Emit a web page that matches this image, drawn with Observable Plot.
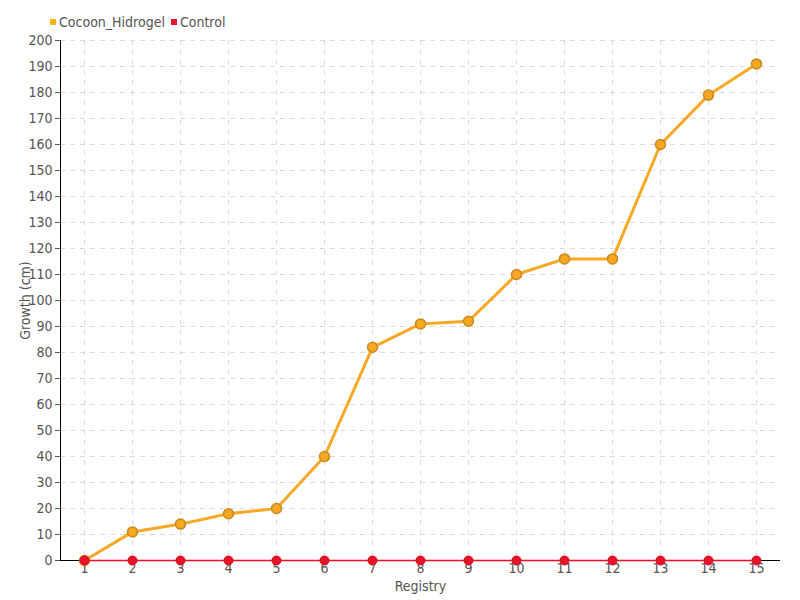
<!DOCTYPE html>
<html><head><meta charset="utf-8">
<script src="https://cdn.jsdelivr.net/npm/d3@7"></script>
<script src="https://cdn.jsdelivr.net/npm/@observablehq/plot@0.6"></script>
<style>
body{margin:0;background:#fff;font-family:"DejaVu Sans Condensed","Liberation Sans Narrow","Roboto",sans-serif;}
#legend{height:30px;display:flex;align-items:flex-end;padding-left:50px;font-size:14px;color:#555;box-sizing:border-box;}
#legend span.item{display:inline-flex;align-items:center;margin-right:6px;}
#legend span.sw{display:inline-block;width:6px;height:6px;margin-right:3px;}
</style></head>
<body>
<div id="legend"></div>
<div id="chart"></div>
<script>
const registry = [1,2,3,4,5,6,7,8,9,10,11,12,13,14,15];
const cocoon = [0,11,14,18,20,40,82,91,92,110,116,116,160,179,191];
const control = [0,0,0,0,0,0,0,0,0,0,0,0,0,0,0];
const seriesNames = ["Cocoon_Hidrogel","Control"];
const seriesColors = ["#f9b418","#e8132a"];

const legend = document.getElementById("legend");
seriesNames.forEach((n,i)=>{
  const s=document.createElement("span");s.className="item";
  s.innerHTML=`<span class="sw" style="background:${seriesColors[i]}"></span>${n}`;
  legend.appendChild(s);
});

const dCoc = registry.map((r,i)=>({x:r,y:cocoon[i]}));
const dCon = registry.map((r,i)=>({x:r,y:control[i]}));
const yTicks = d3.range(0,201,10);

const chart = Plot.plot({
  width:800, height:570,
  marginLeft:60, marginRight:20, marginTop:10, marginBottom:40,
  style:{fontFamily:'"DejaVu Sans Condensed","Liberation Sans Narrow","Roboto",sans-serif', fontSize:"14px", color:"#555"},
  x:{type:"point", domain:registry, padding:0.5},
  y:{domain:[0,200]},
  marks:[
    Plot.gridX(registry,{stroke:"#ccc", strokeOpacity:0.7, strokeDasharray:"5,5"}),
    Plot.gridY(yTicks.slice(1),{stroke:"#ccc", strokeOpacity:0.7, strokeDasharray:"5,5"}),
    Plot.ruleY([0],{stroke:"#000"}),
    Plot.frame({anchor:"left", stroke:"#000", strokeOpacity:1}),
    Plot.axisY({ticks:yTicks, tickSize:5, tickPadding:3, label:"Growth (cm)", labelAnchor:"center", labelArrow:"none", labelOffset:40, fill:"#555"}),
    Plot.axisX({tickSize:0, tickPadding:3, label:"Registry", labelAnchor:"center", labelArrow:"none", labelOffset:30, fill:"#555"}),
    Plot.line(dCoc,{x:"x",y:"y",stroke:"#f9a825",strokeWidth:3}),
    Plot.dot(dCoc,{x:"x",y:"y",r:5,fill:"#f5a623",stroke:"#c98a1e",strokeWidth:1.5}),
    Plot.line(dCon,{x:"x",y:"y",stroke:"#ff0a2a",strokeWidth:1.5}),
    Plot.dot(dCon,{x:"x",y:"y",r:4.5,fill:"#e8132a",stroke:"#d01020",strokeWidth:1}),
  ]
});
document.getElementById("chart").appendChild(chart);
</script>
</body></html>
